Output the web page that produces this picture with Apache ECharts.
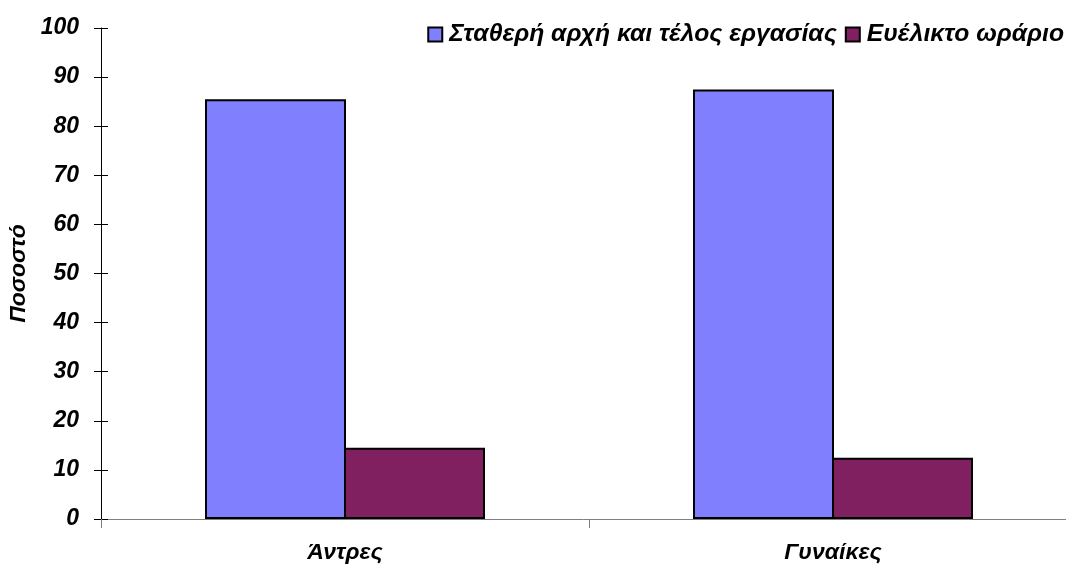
<!DOCTYPE html>
<html>
<head>
<meta charset="utf-8">
<script src="https://cdn.jsdelivr.net/npm/echarts@6/dist/echarts.min.js"></script>
<style>
  html, body { margin: 0; padding: 0; background: #fff; }
  #chart { width: 1066px; height: 566px; }
</style>
</head>
<body>
<div id="chart"></div>
<script>
// δεδομένα
var categories = ['Άντρες', 'Γυναίκες']
var seriesNames = ['Σταθερή αρχή και τέλος εργασίας', 'Ευέλικτο ωράριο']
var stathero = [85.5, 87.5]
var evelikto = [14.5, 12.5]

var font = 'Liberation Sans, Arial, sans-serif'
var txt = { fontFamily: font, fontWeight: 'bold', fontStyle: 'italic', color: '#000' }

var chart = echarts.init(document.getElementById('chart'))
var option = {
  animation: false,
  legend: {
    data: seriesNames,
    right: -3,
    top: 17,
    itemWidth: 14,
    itemHeight: 14,
    itemGap: 8,
    icon: 'rect',
    textStyle: Object.assign({ fontSize: 24.7, padding: [0, 0, 0, 2] }, txt)
  },
  grid: { left: 101, width: 976, top: 28, bottom: 47, outerBoundsMode: 'none' },
  xAxis: {
    type: 'category',
    data: categories,
    axisLine: { lineStyle: { color: '#808080', width: 1 } },
    axisTick: { show: true, alignWithLabel: false, length: 9, lineStyle: { color: '#808080' } },
    axisLabel: Object.assign({ fontSize: 23, margin: 22 }, txt)
  },
  yAxis: [{
    type: 'value',
    min: 0,
    max: 100,
    interval: 10,
    name: 'Ποσοστό',
    nameLocation: 'middle',
    nameGap: 64,
    nameTextStyle: Object.assign({ fontSize: 23 }, txt),
    axisLine: { show: true, lineStyle: { color: '#000', width: 1 } },
    axisTick: { show: true, length: 7, lineStyle: { color: '#000' } },
    axisLabel: Object.assign({ fontSize: 23, margin: 22 }, txt),
    splitLine: { show: false }
  }, {
    // εσωτερικά τικ για να διασχίζουν τον άξονα
    type: 'value',
    min: 0,
    max: 100,
    interval: 10,
    position: 'left',
    axisLine: { show: false },
    axisTick: { show: true, inside: true, length: 7, lineStyle: { color: '#000' } },
    axisLabel: { show: false },
    splitLine: { show: false }
  }],
  series: [{
    name: seriesNames[0],
    type: 'bar',
    data: stathero,
    barWidth: 141,
    barGap: '-1.42%',
    itemStyle: { color: '#8080FF', borderColor: '#000', borderWidth: 2 }
  }, {
    name: seriesNames[1],
    type: 'bar',
    data: evelikto,
    barWidth: 141,
    barGap: '-1.42%',
    itemStyle: { color: '#802060', borderColor: '#000', borderWidth: 2 }
  }]
}
chart.setOption(option)
</script>
</body>
</html>
